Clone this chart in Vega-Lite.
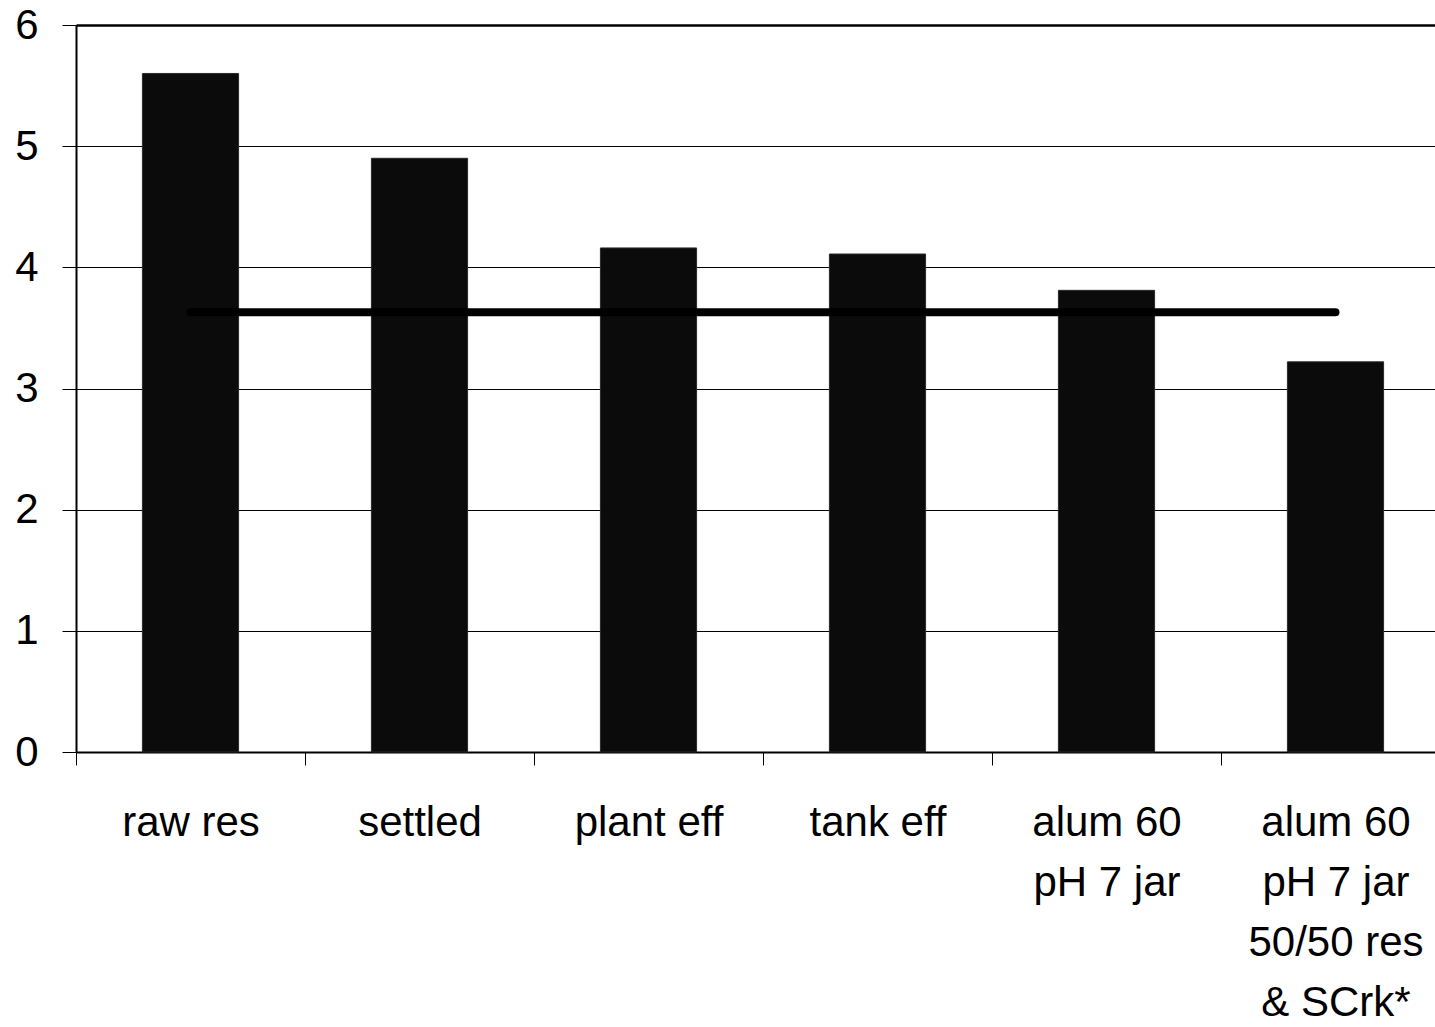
{
  "$schema": "https://vega.github.io/schema/vega-lite/v6.json",
  "autosize": "none",
  "width": 1359,
  "height": 727,
  "padding": {"left": 76, "top": 25, "right": 0, "bottom": 275},
  "background": "white",
  "config": {
    "view": {"stroke": null},
    "font": "Liberation Sans"
  },
  "data": {
    "values": [
      {"sample": "raw res", "value": 5.6, "limit": 3.63},
      {"sample": "settled", "value": 4.9, "limit": 3.63},
      {"sample": "plant eff", "value": 4.16, "limit": 3.63},
      {"sample": "tank eff", "value": 4.11, "limit": 3.63},
      {"sample": "alum 60\npH 7 jar", "value": 3.81, "limit": 3.63},
      {"sample": "alum 60\npH 7  jar\n50/50 res\n& SCrk*", "value": 3.22, "limit": 3.63}
    ]
  },
  "encoding": {
    "x": {
      "field": "sample",
      "type": "nominal",
      "sort": null,
      "title": null,
      "scale": {"range": [0, 1374], "paddingInner": 0.58, "paddingOuter": 0.29},
      "axis": {
        "labelAngle": 0,
        "labelExpr": "split(datum.value, '\\n')",
        "labelFont": "Liberation Sans",
        "labelFontSize": 42,
        "labelLineHeight": 60,
        "labelColor": "black",
        "labelPadding": 37,
        "labelBaseline": "top",
        "labelLimit": 0,
        "tickOffset": -114.5,
        "labelOffset": 114.5,
        "tickSize": 13,
        "tickColor": "black",
        "tickWidth": 1,
        "domainColor": "black",
        "domainWidth": 2,
        "grid": false
      }
    }
  },
  "layer": [
    {
      "mark": {"type": "bar", "fill": "#0b0b0b", "stroke": "#2a2a2a", "strokeWidth": 1},
      "encoding": {
        "y": {
          "field": "value",
          "type": "quantitative",
          "title": null,
          "scale": {"domain": [0, 6], "nice": false},
          "axis": {
            "values": [0, 1, 2, 3, 4, 5, 6],
            "format": "d",
            "labelFont": "Liberation Sans",
            "labelFontSize": 42,
            "labelColor": "black",
            "labelPadding": 24,
            "labelFlush": false,
            "tickSize": 14,
            "tickColor": "black",
            "tickWidth": 1,
            "domainColor": "black",
            "domainWidth": 2,
            "grid": true,
            "gridColor": "black",
            "gridOpacity": 1,
            "gridWidth": {"condition": {"test": "datum.value == 6", "value": 2.5}, "value": 1}
          }
        }
      }
    },
    {
      "mark": {"type": "line", "color": "black", "strokeWidth": 8, "strokeCap": "round"},
      "encoding": {
        "y": {"field": "limit", "type": "quantitative"}
      }
    }
  ]
}
